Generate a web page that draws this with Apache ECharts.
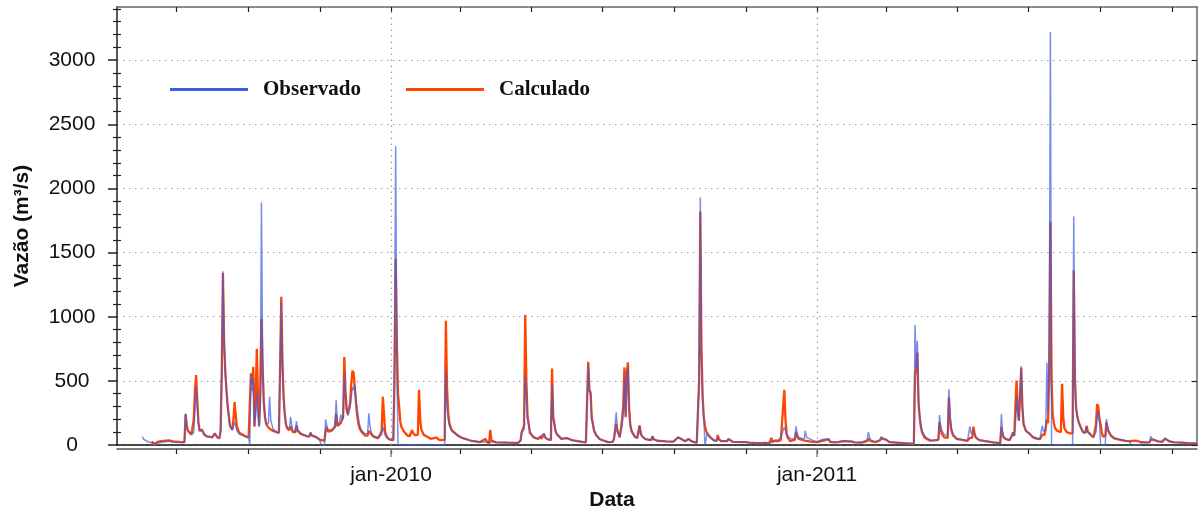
<!DOCTYPE html>
<html>
<head>
<meta charset="utf-8">
<script src="https://cdn.jsdelivr.net/npm/echarts@6/dist/echarts.min.js"></script>
<style>
  html, body { margin: 0; padding: 0; background: #fff; }
  #chart { width: 1198px; height: 511px; }
</style>
</head>
<body>
<div id="chart"></div>
<script>
// Daily discharge (m³/s): observed vs. simulated, one row per listed day.
const dates = [
  '2009-06-02','2009-06-03','2009-06-07','2009-06-10','2009-06-12','2009-06-15','2009-06-18','2009-06-25','2009-06-28',
  '2009-07-04','2009-07-08','2009-07-09','2009-07-10','2009-07-11','2009-07-14','2009-07-15','2009-07-16','2009-07-17','2009-07-18','2009-07-19','2009-07-20','2009-07-21','2009-07-23','2009-07-25','2009-07-27',
  '2009-08-01','2009-08-03','2009-08-05','2009-08-07','2009-08-08','2009-08-09','2009-08-10','2009-08-11','2009-08-12','2009-08-13','2009-08-14','2009-08-16','2009-08-18','2009-08-19','2009-08-20','2009-08-21','2009-08-22','2009-08-24','2009-08-29',
  '2009-09-01','2009-09-02','2009-09-03','2009-09-04','2009-09-05','2009-09-06','2009-09-07','2009-09-08','2009-09-09','2009-09-10','2009-09-11','2009-09-12','2009-09-13','2009-09-14','2009-09-15','2009-09-16','2009-09-18','2009-09-19','2009-09-20','2009-09-22','2009-09-25','2009-09-27','2009-09-28','2009-09-29','2009-09-30',
  '2009-10-01','2009-10-02','2009-10-03','2009-10-04','2009-10-06','2009-10-07','2009-10-08','2009-10-09','2009-10-11','2009-10-12','2009-10-13','2009-10-16','2009-10-21','2009-10-23','2009-10-24','2009-10-25','2009-10-29',
  '2009-11-01','2009-11-02','2009-11-05','2009-11-06','2009-11-07','2009-11-08','2009-11-09','2009-11-11','2009-11-12','2009-11-14','2009-11-15','2009-11-16','2009-11-17','2009-11-19','2009-11-21','2009-11-22','2009-11-23','2009-11-24','2009-11-25','2009-11-26','2009-11-27','2009-11-28','2009-11-29','2009-11-30',
  '2009-12-01','2009-12-02','2009-12-03','2009-12-04','2009-12-05','2009-12-07','2009-12-10','2009-12-12','2009-12-13','2009-12-14','2009-12-15','2009-12-17','2009-12-21','2009-12-24','2009-12-25','2009-12-26','2009-12-27','2009-12-29','2009-12-31',
  '2010-01-03','2010-01-04','2010-01-05','2010-01-06','2010-01-07','2010-01-08','2010-01-09','2010-01-10','2010-01-12','2010-01-15','2010-01-17','2010-01-18','2010-01-19','2010-01-20','2010-01-22','2010-01-24','2010-01-25','2010-01-26','2010-01-27','2010-01-29',
  '2010-02-04','2010-02-09','2010-02-11','2010-02-13','2010-02-16','2010-02-17','2010-02-18','2010-02-19','2010-02-20','2010-02-22','2010-02-24','2010-02-27',
  '2010-03-03','2010-03-10','2010-03-18','2010-03-23','2010-03-24','2010-03-26','2010-03-27','2010-03-28',
  '2010-04-01','2010-04-10','2010-04-20','2010-04-22','2010-04-23','2010-04-24','2010-04-25','2010-04-26','2010-04-27','2010-04-28','2010-04-29','2010-04-30',
  '2010-05-03','2010-05-07','2010-05-09','2010-05-10','2010-05-12','2010-05-13','2010-05-15','2010-05-18','2010-05-19','2010-05-20','2010-05-21','2010-05-22','2010-05-23','2010-05-27',
  '2010-06-01','2010-06-02','2010-06-05','2010-06-10','2010-06-15','2010-06-17','2010-06-18','2010-06-19','2010-06-20','2010-06-21','2010-06-22','2010-06-23','2010-06-24','2010-06-26','2010-06-29',
  '2010-07-01','2010-07-06','2010-07-10','2010-07-11','2010-07-12','2010-07-13','2010-07-14','2010-07-15','2010-07-16','2010-07-17','2010-07-18','2010-07-19','2010-07-20','2010-07-21','2010-07-22','2010-07-23','2010-07-24','2010-07-25','2010-07-26','2010-07-27','2010-07-29','2010-07-31',
  '2010-08-02','2010-08-03','2010-08-04','2010-08-07','2010-08-12','2010-08-13','2010-08-14','2010-08-17','2010-08-25','2010-08-31',
  '2010-09-01','2010-09-04','2010-09-05','2010-09-07','2010-09-10','2010-09-13','2010-09-15','2010-09-17','2010-09-20','2010-09-21','2010-09-22','2010-09-23','2010-09-24','2010-09-25','2010-09-26','2010-09-27','2010-09-28','2010-09-29','2010-09-30',
  '2010-10-02','2010-10-05','2010-10-07','2010-10-08','2010-10-09','2010-10-11','2010-10-16','2010-10-17','2010-10-18','2010-10-21','2010-10-30','2010-10-31',
  '2010-11-01','2010-11-04','2010-11-11','2010-11-15','2010-11-16','2010-11-17','2010-11-21','2010-11-23','2010-11-24','2010-11-26','2010-11-27','2010-11-29',
  '2010-12-01','2010-12-02','2010-12-04','2010-12-05','2010-12-06','2010-12-07','2010-12-09','2010-12-13','2010-12-14','2010-12-15','2010-12-16','2010-12-17','2010-12-21','2010-12-22','2010-12-23','2010-12-24','2010-12-28',
  '2011-01-01','2011-01-06','2011-01-07','2011-01-11','2011-01-12','2011-01-15','2011-01-19','2011-01-24','2011-01-25','2011-01-31',
  '2011-02-02','2011-02-08','2011-02-13','2011-02-14','2011-02-15','2011-02-16','2011-02-20','2011-02-24','2011-02-25','2011-02-26','2011-02-27',
  '2011-03-01','2011-03-04','2011-03-16','2011-03-25','2011-03-26','2011-03-27','2011-03-28','2011-03-29','2011-03-30','2011-03-31',
  '2011-04-01','2011-04-03','2011-04-05','2011-04-08','2011-04-11','2011-04-15','2011-04-16','2011-04-17','2011-04-18','2011-04-19','2011-04-20','2011-04-21','2011-04-23','2011-04-24','2011-04-25','2011-04-26','2011-04-27','2011-04-28',
  '2011-05-01','2011-05-04','2011-05-10','2011-05-11','2011-05-12','2011-05-13','2011-05-14','2011-05-15','2011-05-16','2011-05-17','2011-05-20','2011-05-24',
  '2011-06-01','2011-06-07','2011-06-08','2011-06-09','2011-06-10','2011-06-12','2011-06-15','2011-06-17','2011-06-18','2011-06-19','2011-06-20','2011-06-21','2011-06-22','2011-06-23','2011-06-24','2011-06-25','2011-06-26','2011-06-27','2011-06-29',
  '2011-07-02','2011-07-05','2011-07-08','2011-07-11','2011-07-12','2011-07-13','2011-07-14','2011-07-15','2011-07-16','2011-07-17','2011-07-18','2011-07-19','2011-07-20','2011-07-21','2011-07-22','2011-07-23','2011-07-24','2011-07-26','2011-07-29','2011-07-30','2011-07-31',
  '2011-08-01','2011-08-03','2011-08-06','2011-08-08','2011-08-09','2011-08-10','2011-08-11','2011-08-12','2011-08-13','2011-08-15','2011-08-17','2011-08-19','2011-08-20','2011-08-21','2011-08-22','2011-08-24','2011-08-26','2011-08-28','2011-08-29','2011-08-30','2011-08-31',
  '2011-09-01','2011-09-02','2011-09-03','2011-09-04','2011-09-05','2011-09-06','2011-09-07','2011-09-08','2011-09-10','2011-09-13','2011-09-17','2011-09-22','2011-09-26','2011-09-27','2011-09-30',
  '2011-10-01','2011-10-02','2011-10-05','2011-10-06','2011-10-09','2011-10-13','2011-10-14','2011-10-15','2011-10-17','2011-10-20','2011-10-24','2011-10-26','2011-10-27','2011-10-30',
  '2011-11-03','2011-11-10','2011-11-11','2011-11-14','2011-11-22'
];

const observado = [
  65,45,25,18,17,16,22,30,22,
  20,19,245,150,115,90,88,95,110,454,300,170,110,115,85,70,
  60,90,65,55,120,560,1355,820,560,420,300,150,115,130,180,150,110,85,65,
  55,0,555,420,520,150,230,410,250,140,300,1890,700,350,220,165,170,375,190,125,100,95,110,1120,600,
  350,230,170,140,130,220,150,110,105,187,120,88,70,70,100,75,60,
  45,0,0,200,150,120,110,115,120,150,348,180,145,235,200,560,380,270,230,230,300,380,450,430,
  470,340,340,220,160,110,85,90,247,150,100,70,58,80,140,110,75,55,45,
  40,700,2330,700,0,0,0,0,0,0,0,0,0,0,0,0,0,0,0,0,
  0,0,0,0,0,580,300,200,150,110,95,75,
  55,35,24,25,24,23,25,24,
  22,20,18,35,100,85,120,540,400,200,160,100,
  65,50,65,50,90,65,45,40,475,200,160,110,85,50,
  55,45,38,30,24,22,30,626,420,400,200,160,110,75,45,
  38,22,25,47,60,254,120,90,65,60,150,250,527,230,560,605,280,150,110,90,62,55,
  150,95,70,45,38,68,45,35,28,26,
  30,60,55,45,30,47,32,24,18,20,500,1930,700,350,220,0,0,90,80,
  55,35,33,60,40,30,30,47,32,24,22,34,
  22,18,15,15,22,16,14,20,15,38,30,40,
  60,65,140,110,80,65,50,45,145,90,60,55,45,110,60,45,38,
  25,45,30,47,28,22,24,34,22,28,
  22,20,40,100,60,40,24,40,65,70,50,
  45,24,15,10,935,600,813,350,230,150,
  110,75,55,40,36,40,234,140,110,95,80,75,75,436,230,140,100,80,
  50,45,35,36,145,90,75,112,80,60,40,34,
  20,14,241,100,65,45,39,80,99,70,150,390,250,190,200,616,300,170,112,
  90,65,55,45,60,150,110,95,110,644,250,800,3220,0,0,0,0,0,0,0,0,
  0,0,0,0,1782,500,280,220,180,135,100,95,140,100,90,75,65,100,200,270,200,
  0,0,0,0,0,203,140,110,75,55,45,35,32,0,0,
  0,0,0,22,20,22,68,50,40,30,26,52,40,30,
  22,20,24,16,13
];

const calculado = [
  null,null,null,28,2,24,30,36,28,
  24,22,240,150,110,80,75,200,420,545,350,180,110,120,80,68,
  60,92,60,52,110,580,1340,800,580,430,310,150,120,200,335,230,140,95,70,
  58,56,560,470,610,143,330,750,400,150,400,985,600,330,220,165,135,130,120,110,100,95,110,1155,640,
  370,240,160,130,115,145,120,100,100,150,110,85,68,65,95,75,62,
  40,38,35,110,138,105,95,110,115,140,240,150,135,170,220,685,420,280,240,230,330,480,580,560,
  565,330,230,170,130,100,72,75,110,100,85,65,52,110,375,240,100,55,42,
  38,500,1450,800,400,300,180,140,105,75,68,70,115,90,75,80,430,200,120,80,
  48,58,42,38,40,969,450,250,170,115,100,75,
  55,35,22,48,30,8,117,35,
  20,18,17,35,100,85,150,1015,500,220,165,95,
  60,47,65,48,86,60,45,38,597,220,165,110,85,48,
  53,44,38,30,22,21,30,649,430,410,210,165,110,75,45,
  38,22,25,45,55,164,110,86,60,58,200,306,605,216,560,644,290,160,115,95,65,55,
  152,90,70,45,38,68,45,33,28,26,
  30,60,55,45,30,47,32,24,18,20,500,1820,750,380,216,150,110,90,80,
  55,35,33,78,45,30,30,47,32,24,22,34,
  22,18,15,15,22,16,14,55,25,32,25,30,
  40,45,430,200,90,55,30,40,100,70,50,45,35,34,32,28,24,
  22,32,25,45,26,21,22,30,20,26,
  20,18,30,48,40,30,22,35,55,60,45,
  42,22,14,9,540,600,720,330,216,140,
  100,60,47,34,36,40,177,120,85,70,60,55,55,371,200,120,90,70,
  45,42,32,32,55,60,55,143,90,60,38,32,
  20,14,138,80,58,45,38,70,99,70,300,502,270,190,190,600,290,160,110,
  88,60,50,45,55,80,75,80,90,200,170,600,1740,500,230,170,130,110,100,477,216,
  130,100,90,92,1362,520,290,230,185,138,100,95,151,105,90,75,60,160,320,300,200,
  164,100,65,60,70,177,130,100,70,50,42,32,28,30,35,
  47,32,25,22,20,20,42,40,39,28,25,50,40,28,
  21,18,22,15,13
];

// Axis tick positions
const monthTicks = [
  '2009-07-01','2009-09-01','2009-11-01','2010-01-01','2010-03-01','2010-05-01',
  '2010-07-01','2010-09-01','2010-11-01','2011-01-01','2011-03-01','2011-05-01',
  '2011-07-01','2011-09-01','2011-11-01'
];
const yearTicks = ['2010-01-01', '2011-01-01'];
const yTicks = [0, 500, 1000, 1500, 2000, 2500, 3000];

const toTime = s => {
  const p = s.split(/[- :]/).map(Number);
  return new Date(p[0], p[1] - 1, p[2], p[3] || 0, p[4] || 0).getTime();
};
const xMin = toTime('2009-05-11 05:30');
const xMax = toTime('2011-11-22 14:25');
const yMax = 3415;

const BLUE = '#3d5ce0';
const RED = '#ff4500';
const SANS = '"Liberation Sans", Arial, sans-serif';
const SERIF = '"Liberation Serif", "Times New Roman", serif';
const DOTS = [1.5, 4.5];

const minorYTicks = [];
for (let v = 100; v <= 3400; v += 100) if (v % 500 !== 0) minorYTicks.push(v);

// Dates are carried as millisecond timestamps on value axes.
const timeBase = { type: 'value', min: xMin, max: xMax, splitLine: { show: false } };
const valueBase = { type: 'value', min: 0, max: yMax, splitLine: { show: false } };

const chart = echarts.init(document.getElementById('chart'));
chart.setOption({
  animation: false,
  backgroundColor: '#fff',
  grid: { left: 117, right: 1, top: 7, bottom: 66 },
  legend: {
    data: [{ name: 'Observado', icon: 'rect' }, { name: 'Calculado', icon: 'rect' }],
    left: 170, top: 79, padding: 0,
    itemWidth: 78, itemHeight: 3, itemGap: 45,
    textStyle: { fontFamily: SERIF, fontWeight: 'bold', fontSize: 21, color: '#111', padding: [0, 0, 0, 10] }
  },
  xAxis: [
    // zero line
    Object.assign({}, timeBase, {
      position: 'bottom',
      axisLine: { show: true, onZero: true, lineStyle: { color: '#111', width: 1.5 } },
      axisTick: { show: false }, axisLabel: { show: false }
    }),
    // bottom frame with bimonthly ticks
    Object.assign({}, timeBase, {
      position: 'bottom', offset: 4,
      axisLine: { show: true, onZero: false, lineStyle: { color: '#555', width: 1.5 } },
      axisTick: { show: true, length: 5, customValues: monthTicks.map(toTime), lineStyle: { color: '#222', width: 1.2 } },
      axisLabel: { show: false }
    }),
    // year ticks and labels
    Object.assign({}, timeBase, {
      position: 'bottom', offset: 4,
      axisLine: { show: false, onZero: false },
      axisTick: { show: true, length: 8, customValues: yearTicks.map(toTime), lineStyle: { color: '#888', width: 1.5 } },
      axisLabel: {
        show: true, customValues: yearTicks.map(toTime), margin: 16,
        fontFamily: SANS, fontSize: 21, color: '#111',
        formatter: v => 'jan-' + new Date(v).getFullYear()
      }
    }),
    // top frame
    Object.assign({}, timeBase, {
      position: 'top',
      axisLine: { show: true, onZero: false, lineStyle: { color: '#666', width: 1.5 } },
      axisTick: { show: true, inside: true, length: 5, customValues: monthTicks.map(toTime), lineStyle: { color: '#222', width: 1.2 } },
      axisLabel: { show: false }
    })
  ],
  yAxis: [
    Object.assign({}, valueBase, {
      position: 'left', interval: 500,
      name: 'Vazão (m³/s)', nameLocation: 'middle', nameGap: 84,
      nameTextStyle: { fontFamily: SANS, fontWeight: 'bold', fontSize: 21, color: '#111' },
      axisLine: { show: true, onZero: false, lineStyle: { color: '#222', width: 1.5 } },
      axisTick: { show: true, length: 9, customValues: yTicks, lineStyle: { color: '#222', width: 1.5 } },
      axisLabel: {
        customValues: yTicks, align: 'center', margin: 45,
        fontFamily: SANS, fontSize: 21, color: '#111',
        formatter: v => String(v)
      },
      splitLine: { show: true, lineStyle: { color: '#999', width: 1.2, type: DOTS } }
    }),
    Object.assign({}, valueBase, {
      position: 'right', interval: 500,
      axisLine: { show: true, onZero: false, lineStyle: { color: '#666', width: 1.5 } },
      axisTick: { show: true, inside: true, length: 5, customValues: yTicks, lineStyle: { color: '#222', width: 1.2 } },
      axisLabel: { show: false }
    }),
    // minor ticks, straddling the left axis
    Object.assign({}, valueBase, {
      position: 'left',
      axisLine: { show: false, onZero: false },
      axisTick: { show: true, length: 4, customValues: minorYTicks, lineStyle: { color: '#222', width: 1.2 } },
      axisLabel: { show: false }
    }),
    Object.assign({}, valueBase, {
      position: 'left',
      axisLine: { show: false, onZero: false },
      axisTick: { show: true, inside: true, length: 4, customValues: minorYTicks, lineStyle: { color: '#222', width: 1.2 } },
      axisLabel: { show: false }
    })
  ],
  graphic: [{
    type: 'text', x: 612, y: 500,
    style: { text: 'Data', font: 'bold 21px ' + SANS, fill: '#111', align: 'center', verticalAlign: 'middle' }
  }],
  series: [
    {
      name: 'Calculado', type: 'line', symbol: 'none', z: 2,
      data: dates.map((d, i) => [toTime(d), calculado[i]]),
      lineStyle: { color: RED, width: 2.3 }, itemStyle: { color: RED },
      markLine: {
        silent: true, symbol: ['none', 'none'], label: { show: false },
        lineStyle: { color: '#999', width: 1.2, type: DOTS },
        data: yearTicks.map(d => ({ xAxis: toTime(d) }))
      }
    },
    {
      name: 'Observado', type: 'line', symbol: 'none', z: 3,
      data: dates.map((d, i) => [toTime(d), observado[i]]),
      lineStyle: { color: BLUE, width: 1.5, opacity: 0.7 }, itemStyle: { color: BLUE }
    }
  ]
});
</script>
</body>
</html>
